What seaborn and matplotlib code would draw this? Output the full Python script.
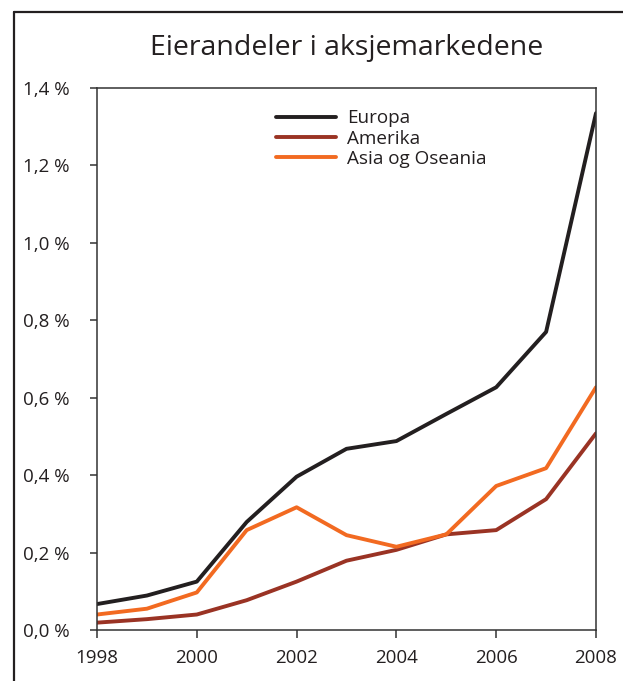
import matplotlib
matplotlib.use("Agg")
import matplotlib.pyplot as plt
import seaborn as sns
import pandas as pd
from matplotlib.lines import Line2D

years = [1998, 1999, 2000, 2001, 2002, 2003, 2004, 2005, 2006, 2007, 2008]
europa = [0.067, 0.089, 0.125, 0.279, 0.396, 0.468, 0.488, 0.558, 0.627, 0.770, 1.335]
amerika = [0.019, 0.028, 0.040, 0.077, 0.125, 0.179, 0.207, 0.247, 0.258, 0.338, 0.508]
asia = [0.040, 0.055, 0.097, 0.258, 0.317, 0.245, 0.215, 0.247, 0.372, 0.418, 0.627]
series_names = ["Europa", "Amerika", "Asia og Oseania"]
colors = ["#231f20", "#9a3324", "#f26a21"]
yticks = [0.0, 0.2, 0.4, 0.6, 0.8, 1.0, 1.2, 1.4]
ytick_labels = ["0,0 %", "0,2 %", "0,4 %", "0,6 %", "0,8 %", "1,0 %", "1,2 %", "1,4 %"]
xticks = [1998, 2000, 2002, 2004, 2006, 2008]
title = "Eierandeler i aksjemarkedene"

df = pd.DataFrame({
    "year": years * 3,
    "value": europa + amerika + asia,
    "series": sum([[n] * len(years) for n in series_names], []),
})

sns.set_theme(style="white")
plt.rcParams["font.family"] = ["Open Sans", "DejaVu Sans"]

fig = plt.figure(figsize=(6.23, 6.81), dpi=100)
ax = fig.add_axes([97/623, 1-630/681, (596-97)/623, (630-88)/681])

sns.lineplot(data=df, x="year", y="value", hue="series", hue_order=series_names,
             palette=colors, linewidth=2.8, ax=ax, legend=False)

ax.set_xlim(1998, 2008)
ax.set_ylim(0, 1.4)
ax.set_xticks(xticks)
ax.set_xticklabels([str(x) for x in xticks])
ax.set_yticks(yticks)
ax.set_yticklabels(ytick_labels)
ax.set_xlabel("")
ax.set_ylabel("")
for s in ax.spines.values():
    s.set_visible(True)
    s.set_color("#333333")
    s.set_linewidth(1.1)
ax.tick_params(axis="y", which="both", left=True, direction="out", length=5, width=1.1,
               color="#333333", pad=15, labelsize=13.5, labelcolor="#231f20")
ax.tick_params(axis="x", which="both", bottom=True, direction="out", length=6, width=1.1,
               color="#333333", pad=8, labelsize=13.5, labelcolor="#231f20")

handles = [Line2D([0], [0], color=c, lw=2.8) for c in colors]
ax.legend(handles, series_names, loc="upper left", bbox_to_anchor=(0.359, 0.961),
          frameon=False, borderaxespad=0, borderpad=0, handlelength=3.15,
          handletextpad=0.62, labelspacing=0.13, fontsize=13.6, labelcolor="#231f20")

fig.text(347/623, 1-48/681, title, ha="center", va="center", fontsize=20.5, color="#231f20")

# outer frame
fig.add_artist(Line2D([14/623, 1.0], [1-12/681, 1-12/681], color="#231f20", lw=1.6,
                      transform=fig.transFigure))
fig.add_artist(Line2D([14/623, 14/623], [1-12/681, 0.0], color="#231f20", lw=1.6,
                      transform=fig.transFigure))

fig.savefig("out.png", dpi=100)
